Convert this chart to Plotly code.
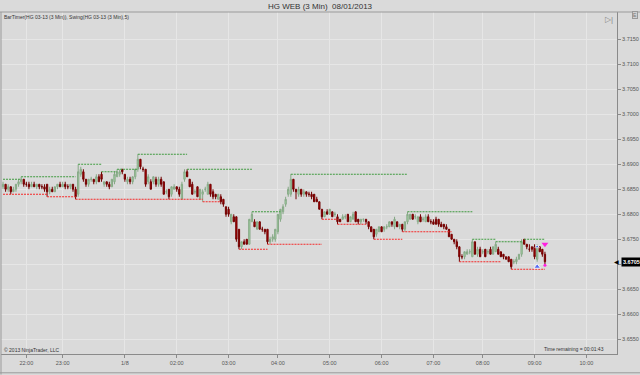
import plotly.graph_objects as go

# ---------------- data ----------------
open_ = [3.6855, 3.6860, 3.6850, 3.6855, 3.6845, 3.6850, 3.6860, 3.6865, 3.6870, 3.6860,
         3.6860, 3.6855, 3.6860, 3.6855, 3.6860, 3.6855, 3.6855, 3.6860, 3.6845, 3.6850,
         3.6845, 3.6855, 3.6860, 3.6855, 3.6860, 3.6855, 3.6855, 3.6860, 3.6850, 3.6840,
         3.6880, 3.6885, 3.6870, 3.6860, 3.6870, 3.6870, 3.6865, 3.6875, 3.6880, 3.6860,
         3.6865, 3.6860, 3.6855, 3.6865, 3.6875, 3.6880, 3.6890, 3.6880, 3.6865, 3.6870,
         3.6865, 3.6875, 3.6890, 3.6910, 3.6890, 3.6890, 3.6865, 3.6865, 3.6865, 3.6870,
         3.6860, 3.6870, 3.6865, 3.6845, 3.6850, 3.6840, 3.6850, 3.6855, 3.6850, 3.6830,
         3.6870, 3.6885, 3.6870, 3.6860, 3.6845, 3.6855, 3.6830, 3.6840, 3.6850, 3.6840,
         3.6860, 3.6845, 3.6840, 3.6830, 3.6835, 3.6830, 3.6815, 3.6810, 3.6785, 3.6795,
         3.6795, 3.6770, 3.6735, 3.6745, 3.6750, 3.6740, 3.6785, 3.6785, 3.6770, 3.6785,
         3.6770, 3.6770, 3.6770, 3.6745, 3.6750, 3.6750, 3.6765, 3.6790, 3.6805, 3.6820,
         3.6840, 3.6840, 3.6870, 3.6850, 3.6840, 3.6850, 3.6840, 3.6845, 3.6840, 3.6840,
         3.6840, 3.6830, 3.6825, 3.6810, 3.6795, 3.6805, 3.6800, 3.6805, 3.6800, 3.6795,
         3.6790, 3.6790, 3.6795, 3.6800, 3.6785, 3.6790, 3.6805, 3.6790, 3.6785, 3.6790,
         3.6790, 3.6785, 3.6775, 3.6770, 3.6760, 3.6765, 3.6775, 3.6770, 3.6775, 3.6775,
         3.6785, 3.6775, 3.6785, 3.6775, 3.6780, 3.6770, 3.6785, 3.6790, 3.6800, 3.6795,
         3.6785, 3.6795, 3.6790, 3.6785, 3.6795, 3.6785, 3.6785, 3.6790, 3.6790, 3.6780,
         3.6780, 3.6775, 3.6770, 3.6760, 3.6750, 3.6745, 3.6735, 3.6715, 3.6715, 3.6720,
         3.6725, 3.6715, 3.6745, 3.6720, 3.6730, 3.6725, 3.6730, 3.6725, 3.6730, 3.6720,
         3.6725, 3.6730, 3.6725, 3.6720, 3.6715, 3.6715, 3.6710, 3.6705, 3.6705, 3.6710,
         3.6720, 3.6750, 3.6740, 3.6730, 3.6735, 3.6735, 3.6710, 3.6735, 3.6730, 3.6720]
high = [3.6865, 3.6860, 3.6860, 3.6855, 3.6855, 3.6860, 3.6870, 3.6875, 3.6870, 3.6865,
        3.6865, 3.6865, 3.6865, 3.6860, 3.6860, 3.6860, 3.6860, 3.6860, 3.6855, 3.6855,
        3.6855, 3.6860, 3.6865, 3.6865, 3.6865, 3.6860, 3.6860, 3.6860, 3.6855, 3.6900,
        3.6895, 3.6890, 3.6870, 3.6870, 3.6875, 3.6870, 3.6880, 3.6880, 3.6885, 3.6865,
        3.6865, 3.6865, 3.6870, 3.6885, 3.6890, 3.6890, 3.6890, 3.6880, 3.6875, 3.6875,
        3.6875, 3.6890, 3.6920, 3.6910, 3.6895, 3.6890, 3.6880, 3.6870, 3.6875, 3.6875,
        3.6875, 3.6875, 3.6865, 3.6850, 3.6850, 3.6855, 3.6860, 3.6855, 3.6855, 3.6865,
        3.6890, 3.6890, 3.6870, 3.6865, 3.6850, 3.6855, 3.6850, 3.6850, 3.6855, 3.6865,
        3.6860, 3.6850, 3.6840, 3.6840, 3.6840, 3.6830, 3.6815, 3.6815, 3.6800, 3.6800,
        3.6795, 3.6770, 3.6745, 3.6750, 3.6750, 3.6790, 3.6805, 3.6790, 3.6785, 3.6785,
        3.6775, 3.6770, 3.6770, 3.6755, 3.6760, 3.6770, 3.6800, 3.6810, 3.6820, 3.6835,
        3.6855, 3.6880, 3.6870, 3.6850, 3.6855, 3.6850, 3.6850, 3.6845, 3.6845, 3.6845,
        3.6840, 3.6835, 3.6825, 3.6810, 3.6805, 3.6810, 3.6810, 3.6805, 3.6805, 3.6800,
        3.6790, 3.6800, 3.6800, 3.6800, 3.6795, 3.6805, 3.6805, 3.6790, 3.6790, 3.6790,
        3.6790, 3.6785, 3.6775, 3.6770, 3.6770, 3.6775, 3.6775, 3.6775, 3.6780, 3.6785,
        3.6785, 3.6795, 3.6785, 3.6780, 3.6780, 3.6785, 3.6805, 3.6800, 3.6800, 3.6800,
        3.6795, 3.6800, 3.6795, 3.6800, 3.6800, 3.6790, 3.6790, 3.6795, 3.6790, 3.6785,
        3.6780, 3.6780, 3.6770, 3.6760, 3.6750, 3.6750, 3.6735, 3.6720, 3.6725, 3.6730,
        3.6730, 3.6750, 3.6745, 3.6735, 3.6735, 3.6730, 3.6730, 3.6730, 3.6735, 3.6735,
        3.6745, 3.6735, 3.6725, 3.6720, 3.6715, 3.6715, 3.6710, 3.6710, 3.6715, 3.6720,
        3.6750, 3.6750, 3.6740, 3.6740, 3.6735, 3.6740, 3.6740, 3.6735, 3.6730, 3.6725]
low = [3.6850, 3.6845, 3.6845, 3.6840, 3.6845, 3.6845, 3.6855, 3.6860, 3.6855, 3.6855,
       3.6850, 3.6855, 3.6855, 3.6850, 3.6850, 3.6850, 3.6845, 3.6835, 3.6840, 3.6845,
       3.6845, 3.6850, 3.6855, 3.6855, 3.6850, 3.6850, 3.6850, 3.6845, 3.6830, 3.6835,
       3.6875, 3.6865, 3.6855, 3.6855, 3.6865, 3.6860, 3.6860, 3.6865, 3.6865, 3.6855,
       3.6855, 3.6850, 3.6855, 3.6860, 3.6875, 3.6875, 3.6880, 3.6865, 3.6860, 3.6860,
       3.6860, 3.6870, 3.6885, 3.6890, 3.6885, 3.6855, 3.6860, 3.6850, 3.6860, 3.6855,
       3.6855, 3.6855, 3.6840, 3.6840, 3.6830, 3.6835, 3.6850, 3.6845, 3.6835, 3.6830,
       3.6865, 3.6875, 3.6855, 3.6840, 3.6840, 3.6835, 3.6830, 3.6825, 3.6845, 3.6840,
       3.6835, 3.6830, 3.6830, 3.6830, 3.6820, 3.6815, 3.6795, 3.6795, 3.6780, 3.6785,
       3.6745, 3.6730, 3.6730, 3.6740, 3.6740, 3.6740, 3.6785, 3.6775, 3.6770, 3.6770,
       3.6765, 3.6760, 3.6740, 3.6740, 3.6745, 3.6745, 3.6760, 3.6785, 3.6800, 3.6815,
       3.6835, 3.6835, 3.6845, 3.6830, 3.6835, 3.6835, 3.6835, 3.6835, 3.6835, 3.6830,
       3.6825, 3.6825, 3.6810, 3.6790, 3.6795, 3.6800, 3.6800, 3.6795, 3.6795, 3.6780,
       3.6785, 3.6790, 3.6790, 3.6785, 3.6785, 3.6790, 3.6785, 3.6780, 3.6780, 3.6785,
       3.6780, 3.6770, 3.6765, 3.6750, 3.6755, 3.6765, 3.6765, 3.6765, 3.6770, 3.6775,
       3.6775, 3.6770, 3.6775, 3.6770, 3.6765, 3.6765, 3.6780, 3.6790, 3.6790, 3.6790,
       3.6780, 3.6785, 3.6785, 3.6785, 3.6785, 3.6780, 3.6780, 3.6780, 3.6775, 3.6775,
       3.6770, 3.6770, 3.6755, 3.6750, 3.6740, 3.6730, 3.6705, 3.6710, 3.6710, 3.6720,
       3.6720, 3.6715, 3.6720, 3.6715, 3.6715, 3.6720, 3.6715, 3.6720, 3.6720, 3.6720,
       3.6725, 3.6720, 3.6715, 3.6710, 3.6710, 3.6705, 3.6690, 3.6700, 3.6700, 3.6710,
       3.6715, 3.6740, 3.6730, 3.6725, 3.6725, 3.6710, 3.6705, 3.6725, 3.6715, 3.6700]
close = [3.6860, 3.6850, 3.6855, 3.6845, 3.6850, 3.6860, 3.6865, 3.6870, 3.6860, 3.6860,
         3.6855, 3.6860, 3.6855, 3.6860, 3.6855, 3.6855, 3.6850, 3.6845, 3.6850, 3.6845,
         3.6855, 3.6860, 3.6855, 3.6860, 3.6855, 3.6855, 3.6860, 3.6850, 3.6835, 3.6885,
         3.6890, 3.6870, 3.6860, 3.6870, 3.6870, 3.6865, 3.6875, 3.6865, 3.6870, 3.6865,
         3.6860, 3.6855, 3.6870, 3.6880, 3.6885, 3.6885, 3.6885, 3.6870, 3.6870, 3.6865,
         3.6875, 3.6890, 3.6910, 3.6895, 3.6890, 3.6860, 3.6875, 3.6850, 3.6875, 3.6860,
         3.6870, 3.6860, 3.6840, 3.6845, 3.6835, 3.6855, 3.6855, 3.6850, 3.6840, 3.6860,
         3.6885, 3.6875, 3.6855, 3.6840, 3.6845, 3.6835, 3.6850, 3.6845, 3.6850, 3.6860,
         3.6840, 3.6835, 3.6835, 3.6840, 3.6825, 3.6820, 3.6800, 3.6800, 3.6800, 3.6785,
         3.6750, 3.6735, 3.6745, 3.6740, 3.6740, 3.6790, 3.6800, 3.6775, 3.6785, 3.6770,
         3.6770, 3.6765, 3.6745, 3.6750, 3.6755, 3.6770, 3.6800, 3.6810, 3.6815, 3.6830,
         3.6850, 3.6870, 3.6850, 3.6845, 3.6850, 3.6840, 3.6845, 3.6840, 3.6840, 3.6835,
         3.6825, 3.6825, 3.6810, 3.6795, 3.6805, 3.6800, 3.6810, 3.6795, 3.6800, 3.6785,
         3.6785, 3.6795, 3.6795, 3.6785, 3.6795, 3.6800, 3.6785, 3.6785, 3.6790, 3.6790,
         3.6785, 3.6775, 3.6765, 3.6755, 3.6770, 3.6775, 3.6765, 3.6775, 3.6775, 3.6785,
         3.6780, 3.6790, 3.6775, 3.6780, 3.6770, 3.6785, 3.6800, 3.6800, 3.6790, 3.6795,
         3.6795, 3.6785, 3.6790, 3.6795, 3.6785, 3.6785, 3.6780, 3.6780, 3.6780, 3.6775,
         3.6775, 3.6770, 3.6755, 3.6750, 3.6745, 3.6735, 3.6715, 3.6715, 3.6725, 3.6725,
         3.6725, 3.6745, 3.6720, 3.6730, 3.6715, 3.6725, 3.6715, 3.6725, 3.6720, 3.6735,
         3.6740, 3.6720, 3.6715, 3.6715, 3.6710, 3.6705, 3.6695, 3.6705, 3.6710, 3.6720,
         3.6745, 3.6740, 3.6735, 3.6730, 3.6730, 3.6715, 3.6735, 3.6725, 3.6720, 3.6705]

# swing indicator segments (bar index start/end, price)
swing_high_start = [0, 7, 29, 38, 44, 52, 71, 96, 111, 156, 181, 190, 201]
swing_high_end = [7, 28, 38, 44, 52, 71, 96, 107, 156, 181, 190, 200, 209]
swing_high_price = [3.6870, 3.6875, 3.6900, 3.6885, 3.6890, 3.6920, 3.6890,
                    3.6805, 3.6880, 3.6805, 3.6750, 3.6745, 3.6750]
swing_low_start = [0, 17, 28, 77, 91, 102, 123, 129, 143, 154, 176, 196]
swing_low_end = [17, 28, 77, 84, 102, 123, 129, 140, 154, 173, 192, 209]
swing_low_price = [3.6840, 3.6835, 3.6830, 3.6825, 3.6730, 3.6740, 3.6790,
                   3.6780, 3.6750, 3.6765, 3.6705, 3.6690]

# signal markers
buy_x = [206, 206]
buy_y = [3.6735, 3.6695]
sell_x = [209]
sell_y = [3.6740]
dot_x = [209]
dot_y = [3.6698]

# axis ticks
time_tick_bar = [9, 23, 47, 67, 87, 106, 126, 146, 166, 185, 205, 225]
time_tick_text = ["22:00", "23:00", "1/8", "02:00", "03:00", "04:00",
                  "05:00", "06:00", "07:00", "08:00", "09:00", "10:00"]
price_ticks = [3.6550, 3.6600, 3.6650, 3.6700, 3.6750, 3.6800, 3.6850,
               3.6900, 3.6950, 3.7000, 3.7050, 3.7100, 3.7150]
# label hidden behind the last-price marker in the reference
hidden_tick = 3.6700

# ---------------- figure ----------------
bars = list(range(len(close)))
fig = go.Figure()

fig.add_trace(go.Candlestick(
    x=bars, open=open_, high=high, low=low, close=close,
    increasing=dict(line=dict(color="#86a886", width=1), fillcolor="#aadfaa"),
    decreasing=dict(line=dict(color="#700000", width=1), fillcolor="#bb0000"),
    whiskerwidth=0, hoverinfo="skip"))


def seg(starts, ends, prices):
    xs, ys = [], []
    for s, e, p in zip(starts, ends, prices):
        xs += [s, e, None]
        ys += [p, p, None]
    return xs, ys


hx, hy = seg(swing_high_start, swing_high_end, swing_high_price)
lx, ly = seg(swing_low_start, swing_low_end, swing_low_price)
fig.add_trace(go.Scatter(x=hx, y=hy, mode="lines",
                         line=dict(color="#3f9a3f", width=1, dash="2px,1px"),
                         hoverinfo="skip"))
fig.add_trace(go.Scatter(x=lx, y=ly, mode="lines",
                         line=dict(color="#f52a2a", width=1, dash="2px,1px"),
                         hoverinfo="skip"))
fig.add_trace(go.Scatter(x=buy_x, y=buy_y, mode="markers",
                         marker=dict(symbol="triangle-up", size=[4, 6], color="#1e3cff"),
                         hoverinfo="skip"))
fig.add_trace(go.Scatter(x=sell_x, y=sell_y, mode="markers",
                         marker=dict(symbol="triangle-down", size=6, color="#ff20e0"),
                         hoverinfo="skip"))
fig.add_trace(go.Scatter(x=dot_x, y=dot_y, mode="markers",
                         marker=dict(symbol="circle", size=3, color="#ff20e0"),
                         hoverinfo="skip"))

axis_col = "#8a8a8a"
grid_col = "#e6e6e6"
bg = "#dadada"

fig.update_layout(
    width=640, height=375,
    margin=dict(l=1, r=23, t=12, b=21),
    paper_bgcolor=bg, plot_bgcolor=bg,
    showlegend=False,
    font=dict(family="Liberation Sans, Arial, sans-serif", size=6, color="#444444"),
    xaxis=dict(range=[-0.77, 236.79], tickmode="array", tickvals=time_tick_bar,
               ticktext=time_tick_text, showgrid=True, gridcolor=grid_col, gridwidth=1,
               showline=True, linecolor=axis_col, linewidth=1, ticks="outside",
               ticklen=3, tickcolor=axis_col, tickfont=dict(size=5.5, color="#555555"),
               zeroline=False, rangeslider=dict(visible=False), fixedrange=True),
    yaxis=dict(range=[3.65205, 3.72045], side="right", tickmode="array",
               tickvals=price_ticks,
               ticktext=["" if v == hidden_tick else f"{v:.4f}" for v in price_ticks],
               showgrid=True, gridcolor=grid_col, gridwidth=1,
               showline=True, linecolor=axis_col, linewidth=1, ticks="outside",
               ticklen=3, tickcolor=axis_col, tickfont=dict(size=5.5, color="#555555"),
               zeroline=False, fixedrange=True),
)

# frame lines
fig.add_shape(type="line", xref="paper", yref="paper", x0=-0.01, x1=1.05, y0=1, y1=1,
              line=dict(color="#9a9a9a", width=1))
fig.add_shape(type="line", xref="paper", yref="paper", x0=0, x1=0, y0=-0.06, y1=1,
              line=dict(color="#9a9a9a", width=1))
fig.add_shape(type="line", xref="paper", yref="paper", x0=-0.01, x1=1.05, y0=-0.055, y1=-0.055,
              line=dict(color="#9a9a9a", width=1))

anns = [
    dict(text="HG WEB (3 Min)  08/01/2013", x=0.518, y=1.0175, font=dict(size=8, color="#333333")),
    dict(text="BarTimer(HG 03-13 (3 Min)), Swing(HG 03-13 (3 Min),5)", x=0.0016, y=0.985,
         xanchor="left", font=dict(size=5, color="#333333")),
    dict(text="© 2013 NinjaTrader, LLC", x=0.0016, y=0.0117, xanchor="left",
         font=dict(size=5, color="#333333")),
    dict(text="Time remaining = 00:01:43", x=0.982, y=0.0146, xanchor="right",
         font=dict(size=5, color="#333333")),
    dict(text="▷|", x=0.987, y=0.977, xanchor="center", font=dict(size=8, color="#8a8a8a")),
    dict(text="E", x=1.029, y=0.99, xanchor="center", font=dict(size=5, color="#777777"),
         bordercolor="#999999", borderwidth=1, borderpad=0, bgcolor="#d0d0d0"),
]
for a in anns:
    a.setdefault("xanchor", "center")
    fig.add_annotation(xref="paper", yref="paper", yanchor="middle", showarrow=False, **a)

# last price marker
fig.add_annotation(xref="paper", yref="y", x=1.0065, y=close[-1], xanchor="left",
                   yanchor="middle", showarrow=False, text=f"<b>{close[-1]:.4f}</b>",
                   font=dict(size=5.5, color="white"), bgcolor="black", borderpad=1)
fig.add_annotation(xref="paper", yref="y", x=1.0068, y=close[-1], xanchor="right",
                   yanchor="middle", showarrow=False, text="◀",
                   font=dict(size=6, color="black"))

fig.write_html("out.html")
